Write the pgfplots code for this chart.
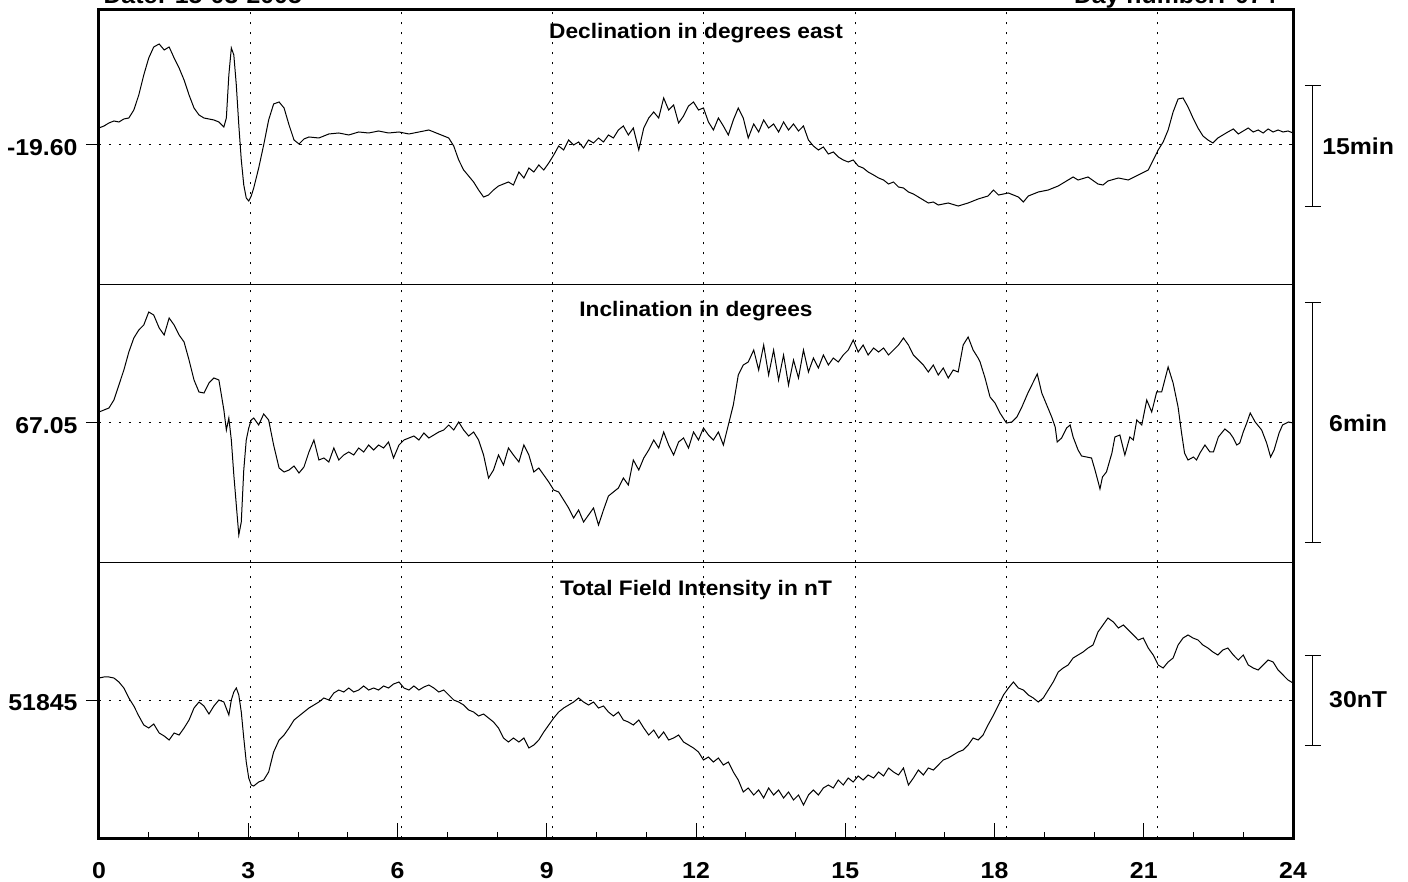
\documentclass[border=0pt]{standalone}
\usepackage{fontspec}
\setmainfont{Liberation Sans}[FakeStretch=1.08]
\usepackage{pgfplots}
\pgfplotsset{compat=1.18}
\begin{document}
\begin{tikzpicture}[x=1pt,y=1pt]
\pgfplotsset{
 panel/.style={
  scale only axis, width=1194pt, xmin=0, xmax=24,
  anchor=south west, clip=false,
  axis line style={line width=1pt, black},
  xtick=\empty, scaled y ticks=false,
  extra x ticks={3.05,6.08,9.11,12.16,15.20,18.24,21.27},
  extra x tick style={grid=major, major tick length=0pt, xticklabel={}},
  ymajorgrids=true,
  major grid style={line width=1pt, dash pattern=on 2.5pt off 7.5pt, black},
  tick align=outside, ytick pos=left, major tick length=13pt,
  tick style={line width=1pt, black},
  yticklabel style={font=\fontsize{23}{27}\selectfont\bfseries, yshift=-3pt, xshift=-5pt},
 },
 curve/.style={black, line width=1pt},
}
\tikzset{
 ttl/.style={font=\fontsize{21}{25}\selectfont\bfseries, anchor=base},
 scl/.style={font=\fontsize{23}{27}\selectfont\bfseries, anchor=center},
}
% ---------------- Declination (arcmin relative to -19.60 deg)
\begin{axis}[panel, at={(0pt,554pt)}, height=275pt, ymin=-17.41, ymax=16.96,
  ytick={0}, yticklabels={-19.60}]
\addplot[curve] table[row sep=\\]{
0.00 2.125\\ 0.10 2.375\\ 0.20 2.75\\ 0.30 3.0\\ 0.40 2.875\\ 0.50 3.25\\ 0.60 3.375\\ 0.70 4.375\\ 0.80 6.25\\ 0.90 8.75\\
1.00 10.875\\ 1.10 12.25\\ 1.21 12.625\\ 1.31 11.875\\ 1.41 12.25\\ 1.51 10.875\\ 1.61 9.625\\ 1.71 8.125\\ 1.81 6.25\\ 1.91 4.625\\
2.01 3.75\\ 2.11 3.375\\ 2.21 3.25\\ 2.31 3.125\\ 2.41 2.875\\ 2.51 2.25\\ 2.56 3.375\\ 2.61 8.75\\ 2.66 12.125\\ 2.71 11.25\\
2.76 7.5\\ 2.81 2.5\\ 2.86 -1.875\\ 2.91 -5.0\\ 2.96 -6.625\\ 3.01 -7.0\\ 3.06 -6.375\\ 3.11 -5.375\\ 3.21 -2.875\\ 3.31 0\\
3.41 3.125\\ 3.51 5.125\\ 3.62 5.375\\ 3.72 4.625\\ 3.82 2.5\\ 3.92 0.625\\ 4.02 0.125\\ 4.12 0.75\\ 4.22 1.0\\ 4.42 0.875\\
4.62 1.375\\ 4.82 1.5\\ 5.02 1.25\\ 5.22 1.625\\ 5.42 1.5\\ 5.62 1.75\\ 5.82 1.5\\ 6.03 1.625\\ 6.23 1.375\\ 6.43 1.625\\
6.63 1.875\\ 6.83 1.375\\ 7.03 0.875\\ 7.13 -0.125\\ 7.23 -1.875\\ 7.33 -3.125\\ 7.43 -3.875\\ 7.53 -4.625\\ 7.63 -5.625\\ 7.73 -6.5\\
7.83 -6.25\\ 7.93 -5.625\\ 8.03 -5.125\\ 8.13 -4.875\\ 8.23 -4.625\\ 8.33 -5.0\\ 8.44 -3.375\\ 8.54 -4.125\\ 8.64 -2.875\\ 8.74 -3.375\\
8.84 -2.5\\ 8.94 -3.125\\ 9.04 -2.25\\ 9.14 -1.25\\ 9.24 -0.125\\ 9.34 -0.625\\ 9.44 0.625\\ 9.54 0\\ 9.64 0.375\\ 9.74 -0.375\\
9.84 0.625\\ 9.94 0.25\\ 10.04 0.875\\ 10.14 0.375\\ 10.24 1.25\\ 10.34 0.875\\ 10.44 1.875\\ 10.54 2.375\\ 10.64 1.25\\ 10.74 2.125\\
10.85 -0.625\\ 10.95 2.125\\ 11.05 3.375\\ 11.15 4.125\\ 11.25 3.375\\ 11.35 5.875\\ 11.45 4.375\\ 11.55 5.0\\ 11.65 2.75\\ 11.75 3.625\\
11.85 4.875\\ 11.95 5.375\\ 12.05 4.375\\ 12.15 4.625\\ 12.25 2.875\\ 12.35 1.875\\ 12.45 3.375\\ 12.55 2.375\\ 12.65 1.25\\ 12.75 3.125\\
12.85 4.625\\ 12.95 3.375\\ 13.05 0.875\\ 13.16 2.625\\ 13.26 1.625\\ 13.36 3.125\\ 13.46 2.125\\ 13.56 2.625\\ 13.66 1.625\\ 13.76 2.875\\
13.86 1.875\\ 13.96 2.625\\ 14.06 1.75\\ 14.16 2.375\\ 14.26 0.625\\ 14.36 -0.125\\ 14.46 -0.625\\ 14.56 -0.25\\ 14.66 -1.125\\ 14.76 -0.875\\
14.86 -1.5\\ 14.96 -1.875\\ 15.06 -2.125\\ 15.16 -1.875\\ 15.26 -2.625\\ 15.36 -2.875\\ 15.46 -3.375\\ 15.57 -3.75\\ 15.67 -4.125\\ 15.77 -4.375\\
15.87 -4.875\\ 15.97 -4.625\\ 16.07 -5.25\\ 16.17 -5.375\\ 16.27 -5.875\\ 16.37 -6.125\\ 16.47 -6.5\\ 16.57 -6.875\\ 16.67 -7.25\\ 16.77 -7.125\\
16.87 -7.5\\ 17.07 -7.25\\ 17.27 -7.625\\ 17.47 -7.25\\ 17.67 -6.75\\ 17.87 -6.375\\ 17.98 -5.625\\ 18.08 -6.25\\ 18.28 -6.0\\ 18.48 -6.5\\
18.58 -7.125\\ 18.68 -6.375\\ 18.88 -5.875\\ 19.08 -5.625\\ 19.28 -5.125\\ 19.48 -4.375\\ 19.58 -4.0\\ 19.68 -4.375\\ 19.88 -4.0\\ 20.08 -4.875\\
20.18 -5.0\\ 20.28 -4.5\\ 20.49 -4.125\\ 20.69 -4.375\\ 20.89 -3.75\\ 21.09 -3.125\\ 21.19 -1.875\\ 21.29 -0.625\\ 21.39 0.375\\ 21.49 1.875\\
21.59 4.125\\ 21.69 5.75\\ 21.79 5.875\\ 21.89 4.75\\ 21.99 3.375\\ 22.09 2.125\\ 22.19 1.125\\ 22.29 0.625\\ 22.39 0.25\\ 22.49 0.875\\
22.59 1.25\\ 22.69 1.625\\ 22.80 2.0\\ 22.90 1.375\\ 23.00 1.75\\ 23.10 2.125\\ 23.20 1.625\\ 23.30 1.875\\ 23.40 1.5\\ 23.50 2.0\\
23.60 1.625\\ 23.70 1.875\\ 23.80 1.625\\ 23.90 1.75\\ 24.00 1.5\\
};
\node[ttl] at ([yshift=-29pt]rel axis cs:0.5,1) {Declination in degrees east};
\draw[line width=1pt] (axis cs:24.40,7.375) -- (axis cs:24.40,-7.625);
\draw[line width=1pt] (axis cs:24.24,7.375) -- (axis cs:24.56,7.375);
\draw[line width=1pt] (axis cs:24.24,-7.625) -- (axis cs:24.56,-7.625);
\node[scl] at (axis cs:25.31,-0.125) {15min};
\end{axis}
% ---------------- Inclination (arcmin relative to 67.05 deg)
\begin{axis}[panel, at={(0pt,276pt)}, height=278pt, ymin=-3.4825, ymax=3.4675,
  ytick={0}, yticklabels={67.05}]
\addplot[curve] table[row sep=\\]{
0.00 0.275\\ 0.10 0.325\\ 0.20 0.375\\ 0.30 0.575\\ 0.40 0.95\\ 0.50 1.325\\ 0.60 1.775\\ 0.70 2.125\\ 0.80 2.325\\ 0.90 2.45\\
1.00 2.775\\ 1.10 2.7\\ 1.21 2.375\\ 1.31 2.2\\ 1.41 2.625\\ 1.51 2.45\\ 1.61 2.2\\ 1.71 2.025\\ 1.81 1.575\\ 1.91 1.075\\
2.01 0.775\\ 2.11 0.75\\ 2.21 1.0\\ 2.31 1.125\\ 2.41 1.075\\ 2.51 0.325\\ 2.56 -0.175\\ 2.61 0.125\\ 2.66 -0.425\\ 2.71 -1.3\\
2.76 -2.05\\ 2.81 -2.8\\ 2.86 -2.475\\ 2.91 -1.175\\ 2.96 -0.425\\ 3.01 -0.125\\ 3.06 0.075\\ 3.11 0.125\\ 3.21 -0.05\\ 3.31 0.225\\
3.41 0.075\\ 3.51 -0.55\\ 3.62 -1.125\\ 3.72 -1.225\\ 3.82 -1.175\\ 3.92 -1.075\\ 4.02 -1.25\\ 4.12 -1.1\\ 4.22 -0.725\\ 4.32 -0.425\\
4.42 -0.925\\ 4.52 -0.875\\ 4.62 -0.975\\ 4.72 -0.625\\ 4.82 -0.925\\ 4.92 -0.8\\ 5.02 -0.725\\ 5.12 -0.8\\ 5.22 -0.625\\ 5.32 -0.725\\
5.42 -0.55\\ 5.52 -0.675\\ 5.62 -0.55\\ 5.72 -0.625\\ 5.82 -0.475\\ 5.92 -0.875\\ 6.03 -0.55\\ 6.13 -0.425\\ 6.23 -0.375\\ 6.33 -0.325\\
6.43 -0.425\\ 6.53 -0.25\\ 6.63 -0.375\\ 6.73 -0.3\\ 6.83 -0.225\\ 6.93 -0.175\\ 7.03 -0.05\\ 7.13 -0.175\\ 7.23 0.025\\ 7.33 -0.175\\
7.43 -0.325\\ 7.53 -0.225\\ 7.63 -0.425\\ 7.73 -0.8\\ 7.83 -1.375\\ 7.93 -1.175\\ 8.03 -0.8\\ 8.13 -1.05\\ 8.23 -0.625\\ 8.33 -0.8\\
8.44 -0.975\\ 8.54 -0.55\\ 8.64 -0.8\\ 8.74 -1.225\\ 8.84 -1.125\\ 8.94 -1.3\\ 9.04 -1.475\\ 9.14 -1.675\\ 9.24 -1.725\\ 9.34 -1.925\\
9.44 -2.125\\ 9.54 -2.375\\ 9.64 -2.175\\ 9.74 -2.475\\ 9.84 -2.3\\ 9.94 -2.125\\ 10.04 -2.55\\ 10.14 -2.175\\ 10.24 -1.825\\ 10.34 -1.725\\
10.44 -1.625\\ 10.54 -1.375\\ 10.64 -1.55\\ 10.74 -0.925\\ 10.85 -1.175\\ 10.95 -0.875\\ 11.05 -0.675\\ 11.15 -0.425\\ 11.25 -0.625\\ 11.35 -0.225\\
11.45 -0.55\\ 11.55 -0.8\\ 11.65 -0.475\\ 11.75 -0.375\\ 11.85 -0.625\\ 11.95 -0.225\\ 12.05 -0.425\\ 12.15 -0.125\\ 12.25 -0.3\\ 12.35 -0.425\\
12.45 -0.225\\ 12.55 -0.55\\ 12.65 -0.05\\ 12.75 0.45\\ 12.85 1.2\\ 12.95 1.45\\ 13.05 1.525\\ 13.16 1.825\\ 13.26 1.325\\ 13.36 1.95\\
13.46 1.2\\ 13.56 1.825\\ 13.66 1.075\\ 13.76 1.7\\ 13.86 0.95\\ 13.96 1.575\\ 14.06 1.125\\ 14.16 1.825\\ 14.26 1.275\\ 14.36 1.625\\
14.46 1.375\\ 14.56 1.7\\ 14.66 1.45\\ 14.76 1.625\\ 14.86 1.525\\ 14.96 1.7\\ 15.06 1.825\\ 15.16 2.075\\ 15.26 1.775\\ 15.36 1.95\\
15.46 1.7\\ 15.57 1.875\\ 15.67 1.775\\ 15.77 1.875\\ 15.87 1.7\\ 15.97 1.825\\ 16.07 1.95\\ 16.17 2.125\\ 16.27 1.95\\ 16.37 1.7\\
16.47 1.575\\ 16.57 1.45\\ 16.67 1.275\\ 16.77 1.45\\ 16.87 1.2\\ 16.97 1.375\\ 17.07 1.125\\ 17.17 1.325\\ 17.27 1.275\\ 17.37 1.95\\
17.47 2.15\\ 17.57 1.825\\ 17.67 1.625\\ 17.71 1.525\\ 17.81 1.125\\ 17.91 0.65\\ 18.01 0.5\\ 18.11 0.25\\ 18.24 0\\ 18.35 0.025\\
18.45 0.15\\ 18.55 0.4\\ 18.68 0.775\\ 18.78 1.025\\ 18.86 1.225\\ 18.95 0.75\\ 19.05 0.45\\ 19.15 0.15\\ 19.22 -0.1\\ 19.26 -0.475\\
19.35 -0.375\\ 19.45 -0.125\\ 19.52 -0.05\\ 19.58 -0.35\\ 19.68 -0.675\\ 19.75 -0.825\\ 19.85 -0.85\\ 19.95 -0.875\\ 20.02 -1.175\\ 20.09 -1.5\\
20.12 -1.65\\ 20.17 -1.35\\ 20.25 -1.225\\ 20.36 -0.75\\ 20.42 -0.35\\ 20.52 -0.3\\ 20.62 -0.8\\ 20.72 -0.35\\ 20.79 -0.425\\ 20.86 0.075\\
20.96 -0.05\\ 21.06 0.575\\ 21.16 0.275\\ 21.26 0.775\\ 21.36 0.775\\ 21.49 1.4\\ 21.59 1.0\\ 21.69 0.4\\ 21.76 -0.25\\ 21.82 -0.75\\
21.89 -0.925\\ 22.00 -0.85\\ 22.06 -0.925\\ 22.13 -0.75\\ 22.23 -0.55\\ 22.33 -0.725\\ 22.40 -0.725\\ 22.50 -0.35\\ 22.63 -0.15\\ 22.73 -0.25\\
22.80 -0.375\\ 22.87 -0.55\\ 22.93 -0.5\\ 23.00 -0.225\\ 23.07 0\\ 23.14 0.25\\ 23.24 0.025\\ 23.37 -0.175\\ 23.47 -0.5\\ 23.55 -0.85\\
23.62 -0.675\\ 23.72 -0.25\\ 23.79 -0.05\\ 23.91 0.025\\ 24.00 0\\
};
\node[ttl] at ([yshift=-32pt]rel axis cs:0.5,1) {Inclination in degrees};
\draw[line width=1pt] (axis cs:24.40,3.0) -- (axis cs:24.40,-3.0);
\draw[line width=1pt] (axis cs:24.24,3.0) -- (axis cs:24.56,3.0);
\draw[line width=1pt] (axis cs:24.24,-3.0) -- (axis cs:24.56,-3.0);
\node[scl] at (axis cs:25.31,0) {6min};
\end{axis}
% ---------------- Total field (nT)
\begin{axis}[panel, at={(0pt,0pt)}, height=276pt, ymin=51798.9, ymax=51890.9,
  ytick={51845}, yticklabels={51845}]
\addplot[curve] table[row sep=\\]{
0.00 51852.33\\ 0.10 51852.67\\ 0.20 51852.67\\ 0.30 51852.33\\ 0.40 51851.00\\ 0.50 51849.00\\ 0.60 51845.67\\ 0.70 51843.00\\ 0.80 51839.67\\ 0.90 51836.67\\
1.00 51835.67\\ 1.10 51837.00\\ 1.21 51834.00\\ 1.31 51833.00\\ 1.41 51831.67\\ 1.51 51834.00\\ 1.61 51833.33\\ 1.71 51835.67\\ 1.81 51838.33\\ 1.91 51842.33\\
2.01 51844.33\\ 2.11 51843.00\\ 2.21 51840.33\\ 2.31 51843.00\\ 2.41 51845.00\\ 2.51 51844.33\\ 2.61 51840.00\\ 2.66 51845.00\\ 2.71 51847.67\\ 2.76 51849.00\\
2.81 51846.67\\ 2.86 51841.00\\ 2.91 51832.33\\ 2.96 51824.33\\ 3.01 51819.00\\ 3.06 51816.67\\ 3.11 51816.33\\ 3.21 51817.67\\ 3.31 51818.33\\ 3.41 51821.00\\
3.51 51827.67\\ 3.62 51831.67\\ 3.72 51833.33\\ 3.82 51835.67\\ 3.92 51838.33\\ 4.02 51839.67\\ 4.12 51841.00\\ 4.22 51842.33\\ 4.32 51843.33\\ 4.42 51844.33\\
4.52 51845.67\\ 4.62 51845.00\\ 4.72 51847.33\\ 4.82 51848.33\\ 4.92 51847.67\\ 5.02 51849.00\\ 5.12 51847.67\\ 5.22 51848.33\\ 5.32 51849.67\\ 5.42 51848.33\\
5.52 51849.00\\ 5.62 51848.33\\ 5.72 51849.67\\ 5.82 51849.00\\ 5.92 51850.33\\ 6.03 51851.00\\ 6.13 51849.00\\ 6.23 51848.33\\ 6.33 51849.67\\ 6.43 51848.33\\
6.53 51849.33\\ 6.63 51850.00\\ 6.73 51849.00\\ 6.83 51847.67\\ 6.93 51848.33\\ 7.03 51846.67\\ 7.13 51845.00\\ 7.23 51844.33\\ 7.33 51843.33\\ 7.43 51841.67\\
7.53 51841.00\\ 7.63 51839.67\\ 7.73 51840.33\\ 7.83 51839.00\\ 7.93 51837.67\\ 8.03 51835.67\\ 8.13 51832.33\\ 8.23 51831.00\\ 8.33 51832.33\\ 8.44 51831.00\\
8.54 51832.33\\ 8.64 51829.00\\ 8.74 51830.00\\ 8.84 51831.67\\ 8.94 51834.33\\ 9.04 51836.67\\ 9.14 51839.00\\ 9.24 51841.00\\ 9.34 51842.33\\ 9.44 51843.33\\
9.54 51844.33\\ 9.64 51845.67\\ 9.74 51844.33\\ 9.84 51843.33\\ 9.94 51844.33\\ 10.04 51842.33\\ 10.14 51843.00\\ 10.24 51841.00\\ 10.34 51839.67\\ 10.44 51841.00\\
10.54 51838.33\\ 10.64 51837.67\\ 10.74 51836.67\\ 10.85 51838.33\\ 10.95 51835.67\\ 11.05 51833.33\\ 11.15 51835.00\\ 11.25 51832.33\\ 11.35 51834.33\\ 11.45 51831.67\\
11.55 51832.33\\ 11.65 51833.33\\ 11.75 51831.00\\ 11.85 51830.00\\ 11.95 51829.00\\ 12.05 51827.67\\ 12.15 51825.00\\ 12.25 51826.00\\ 12.35 51824.33\\ 12.45 51825.67\\
12.55 51823.33\\ 12.65 51824.33\\ 12.75 51821.00\\ 12.85 51818.33\\ 12.95 51814.33\\ 13.05 51815.67\\ 13.16 51813.33\\ 13.26 51815.00\\ 13.36 51812.33\\ 13.46 51815.67\\
13.56 51813.33\\ 13.66 51815.00\\ 13.76 51812.33\\ 13.86 51814.33\\ 13.96 51811.67\\ 14.06 51813.33\\ 14.16 51810.00\\ 14.26 51813.33\\ 14.36 51815.00\\ 14.46 51813.33\\
14.56 51815.67\\ 14.66 51816.67\\ 14.76 51815.67\\ 14.86 51818.33\\ 14.96 51816.67\\ 15.06 51819.00\\ 15.16 51817.67\\ 15.26 51819.67\\ 15.36 51818.33\\ 15.46 51820.00\\
15.57 51819.00\\ 15.67 51821.00\\ 15.77 51819.67\\ 15.87 51822.33\\ 15.97 51821.00\\ 16.07 51820.00\\ 16.17 51822.33\\ 16.27 51816.67\\ 16.37 51819.00\\ 16.47 51821.67\\
16.57 51820.00\\ 16.67 51822.33\\ 16.77 51821.67\\ 16.87 51823.33\\ 16.97 51825.00\\ 17.07 51825.67\\ 17.17 51826.67\\ 17.27 51827.67\\ 17.37 51828.33\\ 17.47 51830.00\\
17.57 51832.33\\ 17.67 51831.67\\ 17.77 51833.33\\ 17.87 51836.67\\ 17.98 51840.00\\ 18.08 51843.33\\ 18.18 51846.67\\ 18.28 51849.00\\ 18.38 51851.00\\ 18.48 51849.00\\
18.58 51848.33\\ 18.68 51846.67\\ 18.78 51845.67\\ 18.88 51844.33\\ 18.98 51845.67\\ 19.08 51848.33\\ 19.18 51851.00\\ 19.28 51854.33\\ 19.38 51855.67\\ 19.48 51856.67\\
19.58 51859.00\\ 19.68 51860.00\\ 19.78 51861.00\\ 19.88 51862.33\\ 19.98 51863.33\\ 20.08 51867.67\\ 20.18 51870.00\\ 20.28 51872.33\\ 20.39 51871.00\\ 20.49 51869.00\\
20.59 51870.00\\ 20.69 51868.33\\ 20.79 51866.67\\ 20.89 51865.00\\ 20.99 51865.67\\ 21.09 51862.33\\ 21.19 51860.00\\ 21.29 51856.67\\ 21.39 51855.67\\ 21.49 51857.67\\
21.59 51859.00\\ 21.69 51863.33\\ 21.79 51865.67\\ 21.89 51866.67\\ 21.99 51865.67\\ 22.09 51865.00\\ 22.19 51863.33\\ 22.29 51862.33\\ 22.39 51861.00\\ 22.49 51860.00\\
22.59 51861.67\\ 22.69 51862.33\\ 22.80 51860.00\\ 22.90 51858.33\\ 23.00 51860.00\\ 23.10 51856.67\\ 23.20 51855.67\\ 23.30 51855.00\\ 23.40 51856.67\\ 23.50 51858.33\\
23.60 51857.67\\ 23.70 51855.00\\ 23.80 51853.33\\ 23.90 51851.67\\ 24.00 51850.67\\
};
\node[ttl] at ([yshift=-33pt]rel axis cs:0.5,1) {Total Field Intensity in nT};
\draw[line width=1pt] (axis cs:24.40,51860) -- (axis cs:24.40,51830);
\draw[line width=1pt] (axis cs:24.24,51860) -- (axis cs:24.56,51860);
\draw[line width=1pt] (axis cs:24.24,51830) -- (axis cs:24.56,51830);
\node[scl] at (axis cs:25.31,51845) {30nT};
\end{axis}
% ---------------- time axis ticks
\begin{axis}[scale only axis, width=1194pt, height=276pt, at={(0pt,0pt)}, anchor=south west,
  xmin=0, xmax=24, ymin=0, ymax=1, axis line style={draw=none}, ytick=\empty,
  xtick={0,3,...,24}, xticklabels={0,3,6,9,12,15,18,21,24}, minor x tick num=2,
  tick align=inside, xtick pos=left, major tick length=15pt, minor tick length=6pt,
  tick style={line width=1pt, black},
  xticklabel style={font=\fontsize{23}{27}\selectfont\bfseries, anchor=base, yshift=-40pt}]
\end{axis}
\draw[line width=3pt] (0pt,0pt) rectangle (1194pt,829pt);
\node[font=\fontsize{23}{27}\selectfont\bfseries, anchor=base west] at (1pt,834.8pt) {Date: 15-03-2005};
\node[font=\fontsize{23}{27}\selectfont\bfseries, anchor=base east] at (1181pt,834.8pt) {Day number: 074};
\pgfresetboundingbox
\useasboundingbox (-99pt,-42.7pt) rectangle (1309pt,838.3pt);
\end{tikzpicture}
\end{document}
